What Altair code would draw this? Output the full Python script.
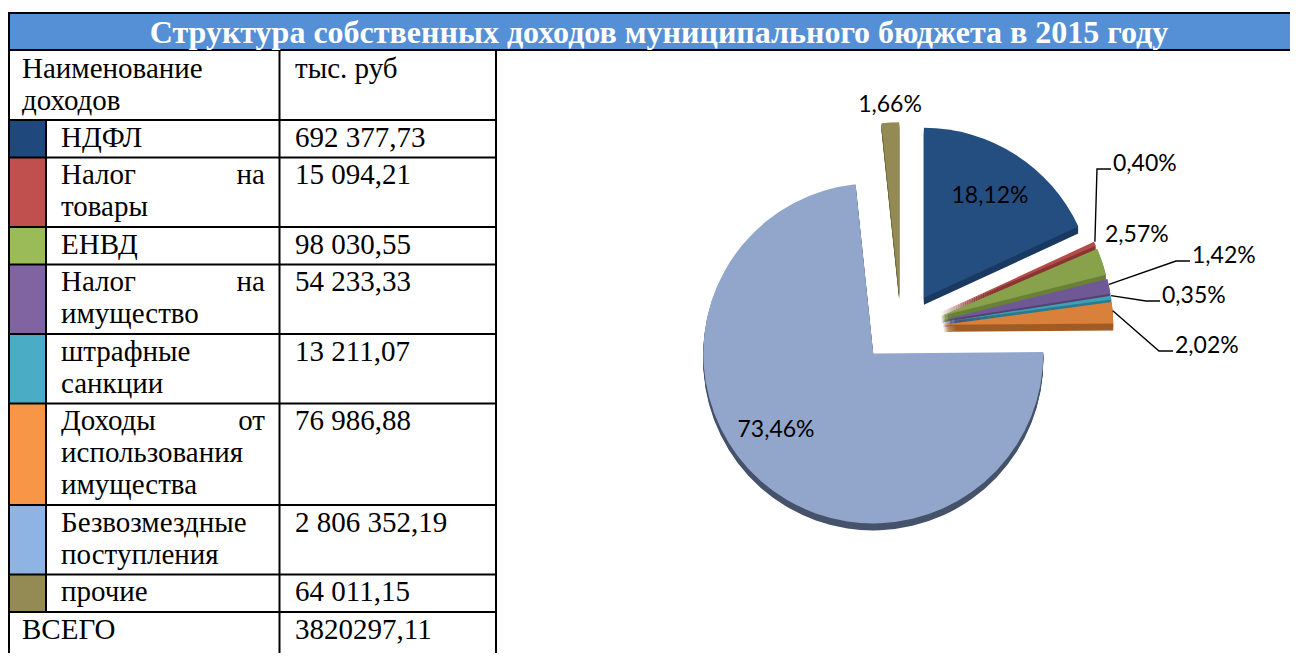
import math
import altair as alt
import pandas as pd

# ---------------- data ----------------
TITLE = "Структура собственных доходов муниципального бюджета в 2015 году"
HEADER_NAME = ["Наименование", "доходов"]
HEADER_UNIT = "тыс. руб"
TOTAL_NAME = "ВСЕГО"

CATEGORIES = [
    "НДФЛ",
    "Налог на товары",
    "ЕНВД",
    "Налог на имущество",
    "штрафные санкции",
    "Доходы от использования имущества",
    "Безвозмездные поступления",
    "прочие",
]
AMOUNTS = [692377.73, 15094.21, 98030.55, 54233.33, 13211.07, 76986.88, 2806352.19, 64011.15]
PIE_PERCENT = [18.12, 0.40, 2.57, 1.42, 0.35, 2.02, 73.46, 1.66]

# ---------------- style ----------------
SWATCH = ["#1F497D", "#C0504D", "#9BBB59", "#8064A2", "#4BACC6", "#F79646", "#8DB4E2", "#948A54"]
FACE = ["#254E80", "#B44D49", "#87A24B", "#6E5896", "#3E9FB7", "#D9803A", "#92A6CC", "#948A54"]
SIDE = ["#1A3A62", "#8A3532", "#6A8138", "#54426F", "#2D7A8C", "#A15C25", "#46536B", "#6E663D"]
TITLE_BG = "#5590D6"

# how each name wraps in the table: (left word(s), right-justified word)
NAME_LINES = {
    "НДФЛ": [("НДФЛ", "")],
    "Налог на товары": [("Налог", "на"), ("товары", "")],
    "ЕНВД": [("ЕНВД", "")],
    "Налог на имущество": [("Налог", "на"), ("имущество", "")],
    "штрафные санкции": [("штрафные", ""), ("санкции", "")],
    "Доходы от использования имущества": [("Доходы", "от"), ("использования", ""), ("имущества", "")],
    "Безвозмездные поступления": [("Безвозмездные", ""), ("поступления", "")],
    "прочие": [("прочие", "")],
}

# ---------------- layout (page pixels) ----------------
OFF = 8
W, H = 1282, 645


def px(v):
    return v - OFF


BOTTOM = H + OFF
TITLE_TOP, TITLE_BOT = 13, 50
COL_L, COL_SW, COL_NAME, COL_VAL = 9, 46, 279.5, 496
HEADER_BOT = 120
LINE_H, ROW_PAD, BASE = 32, 5.5, 26.5
X_HEAD, X_NAME, X_RIGHT, X_VAL = 22, 61, 265, 295

PIE_CX, PIE_CY, R = 901.3, 327.3, 170
EXPLODE_X, EXPLODE_Y, DEPTH = 42, 35, 7

LABEL_LAYOUT = {
    "НДФЛ": (990, 195, "center", False),
    "Налог на товары": (1113, 163, "left", True),
    "ЕНВД": (1105, 234, "left", False),
    "Налог на имущество": (1192, 255, "left", True),
    "штрафные санкции": (1162, 295, "left", True),
    "Доходы от использования имущества": (1175, 345, "left", True),
    "Безвозмездные поступления": (776, 429, "center", False),
    "прочие": (890, 104, "center", False),
}

xs = alt.Scale(domain=[0, W], nice=False, zero=False)
ys = alt.Scale(domain=[0, H], nice=False, zero=False, reverse=True)


def X(f):
    return alt.X(f, type="quantitative", scale=xs, axis=None)


def Y(f):
    return alt.Y(f, type="quantitative", scale=ys, axis=None)


def fmt_amount(v):
    return f"{v:,.2f}".replace(",", " ").replace(".", ",")


# ---------------- title bar ----------------
title_df = pd.DataFrame({"x": [px(9)], "x2": [px(1297)], "y": [px(TITLE_TOP)], "y2": [px(TITLE_BOT)]})
title_rect = alt.Chart(title_df).mark_rect(fill=TITLE_BG, stroke="black", strokeWidth=2).encode(
    x=X("x"), x2="x2", y=Y("y"), y2="y2"
)
title_text = alt.Chart(pd.DataFrame({"x": [px(659)], "y": [px(43)], "t": [TITLE]})).mark_text(
    font="Liberation Serif", fontSize=32, fontWeight="bold", color="white",
    align="center", baseline="alphabetic"
).encode(x=X("x"), y=Y("y"), text="t:N")

# ---------------- table ----------------
rows = []
top = HEADER_BOT
for cat in CATEGORIES:
    h = ROW_PAD + LINE_H * len(NAME_LINES[cat])
    rows.append((cat, top, top + h))
    top += h
total_top = top

sw_df = pd.DataFrame({
    "x": [px(COL_L)] * len(rows), "x2": [px(COL_SW)] * len(rows),
    "y": [px(r[1]) for r in rows], "y2": [px(r[2]) for r in rows],
    "c": SWATCH,
})
swatches = alt.Chart(sw_df).mark_rect().encode(
    x=X("x"), x2="x2", y=Y("y"), y2="y2", color=alt.Color("c:N", scale=None)
)

grid = []
for yy in [HEADER_BOT] + [r[2] for r in rows]:
    grid.append((COL_L, COL_VAL, yy, yy))
grid.append((COL_L, COL_L, TITLE_BOT, BOTTOM))
grid.append((COL_SW, COL_SW, HEADER_BOT, total_top))
grid.append((COL_NAME, COL_NAME, TITLE_BOT, BOTTOM))
grid.append((COL_VAL, COL_VAL, TITLE_BOT, BOTTOM))
grid_df = pd.DataFrame({
    "x": [px(g[0]) for g in grid], "x2": [px(g[1]) for g in grid],
    "y": [px(g[2]) for g in grid], "y2": [px(g[3]) for g in grid],
})
grid_rules = alt.Chart(grid_df).mark_rule(color="black", strokeWidth=2).encode(
    x=X("x"), x2="x2", y=Y("y"), y2="y2"
)

left_txt, right_txt = [], []
for i, line in enumerate(HEADER_NAME):
    left_txt.append((X_HEAD, TITLE_BOT + BASE + 1 + LINE_H * i, line))
left_txt.append((X_VAL, TITLE_BOT + BASE + 1, HEADER_UNIT))
for (cat, t, b), amt in zip(rows, AMOUNTS):
    for i, (lw, rw) in enumerate(NAME_LINES[cat]):
        left_txt.append((X_NAME, t + BASE + LINE_H * i, lw))
        if rw:
            right_txt.append((X_RIGHT, t + BASE + LINE_H * i, rw))
    left_txt.append((X_VAL, t + BASE, fmt_amount(amt)))
left_txt.append((X_HEAD, total_top + BASE, TOTAL_NAME))
left_txt.append((X_VAL, total_top + BASE, f"{sum(AMOUNTS):.2f}".replace(".", ",")))

lt_df = pd.DataFrame({"x": [px(a[0]) for a in left_txt], "y": [px(a[1]) for a in left_txt],
                      "t": [a[2] for a in left_txt]})
rt_df = pd.DataFrame({"x": [px(a[0]) for a in right_txt], "y": [px(a[1]) for a in right_txt],
                      "t": [a[2] for a in right_txt]})
txt_style = dict(font="Liberation Serif", fontSize=29, color="black", baseline="alphabetic")
table_left = alt.Chart(lt_df).mark_text(align="left", **txt_style).encode(x=X("x"), y=Y("y"), text="t:N")
table_right = alt.Chart(rt_df).mark_text(align="right", **txt_style).encode(x=X("x"), y=Y("y"), text="t:N")

# ---------------- exploded pie ----------------
tot = sum(PIE_PERCENT)
pie_rows = []
acc = 0.0
for cat, p, fc, sc in zip(CATEGORIES, PIE_PERCENT, FACE, SIDE):
    a0 = acc / tot * 2 * math.pi
    acc += p
    a1 = acc / tot * 2 * math.pi
    mid = (a0 + a1) / 2
    cx = PIE_CX + EXPLODE_X * math.sin(mid)
    cy = PIE_CY - EXPLODE_Y * math.cos(mid)
    pie_rows.append(dict(cat=cat, pct=p, t0=a0, t1=a1, mid=mid, cx=cx, cy=cy, face=fc, side=sc))

face_df = pd.DataFrame([{**r, "x": px(r["cx"]), "y": px(r["cy"])} for r in pie_rows])
depth_df = pd.DataFrame([
    {**r, "x": px(r["cx"]), "y": px(r["cy"] + k)} for k in range(DEPTH, 0, -1) for r in pie_rows
])

arc_enc = dict(
    x=X("x"), y=Y("y"),
    theta=alt.Theta("t0:Q", scale=None, stack=None),
    theta2=alt.Theta2("t1"),
)
pie_depth = alt.Chart(depth_df).mark_arc(radius=R).encode(
    color=alt.Color("side:N", scale=None), **arc_enc
)
pie_face = alt.Chart(face_df).mark_arc(radius=R).encode(
    color=alt.Color("face:N", scale=None), **arc_enc
)

lab_c, lab_l, leaders = [], [], []
for r in pie_rows:
    lx, ly, al, lead = LABEL_LAYOUT[r["cat"]]
    txt = f"{r['pct']:.2f}".replace(".", ",") + "%"
    rec = dict(x=px(lx), y=px(ly + 8), t=txt)
    (lab_c if al == "center" else lab_l).append(rec)
    if lead:
        sx = r["cx"] + R * math.sin(r["mid"])
        sy = r["cy"] - R * math.cos(r["mid"]) - 2
        pts = [(sx, sy), (lx - 16, ly + 6), (lx - 2, ly + 6)]
        for k, (a, b) in enumerate(pts):
            leaders.append(dict(cat=r["cat"], o=k, x=px(a), y=px(b)))

lab_style = dict(font="Lato", fontSize=23, color="black", baseline="alphabetic")
labels_c = alt.Chart(pd.DataFrame(lab_c)).mark_text(align="center", **lab_style).encode(
    x=X("x"), y=Y("y"), text="t:N")
labels_l = alt.Chart(pd.DataFrame(lab_l)).mark_text(align="left", **lab_style).encode(
    x=X("x"), y=Y("y"), text="t:N")
leader_lines = alt.Chart(pd.DataFrame(leaders)).mark_line(color="black", strokeWidth=1.4).encode(
    x=X("x"), y=Y("y"), detail="cat:N", order="o:Q"
)

chart = alt.layer(
    title_rect, title_text, swatches, grid_rules, table_left, table_right,
    pie_depth, pie_face, leader_lines, labels_c, labels_l,
).properties(
    width=W, height=H, padding=0, autosize=alt.AutoSizeParams(type="none")
).configure_view(stroke=None)

chart.save("out.html", embed_options={"renderer": "svg", "actions": False})
